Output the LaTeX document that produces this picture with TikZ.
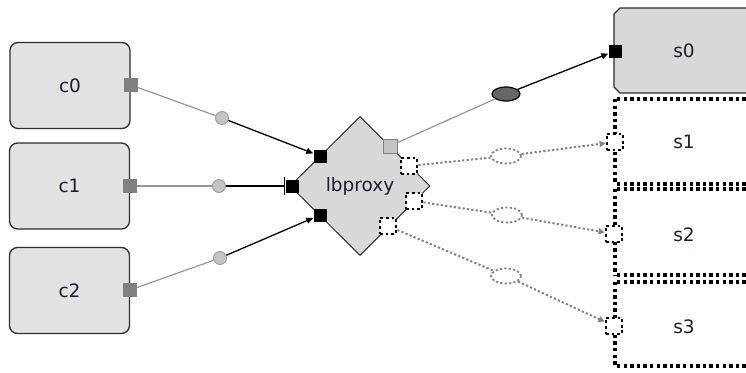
\documentclass[tikz,border=0pt]{standalone}
\usepackage{fontspec}
\setmainfont{DejaVu Sans}
\usetikzlibrary{arrows.meta,shapes.geometric}

\definecolor{txt}{RGB}{28,28,50}
\definecolor{boxline}{RGB}{45,45,45}
\definecolor{cfill}{RGB}{226,226,226}
\definecolor{sfill}{RGB}{216,216,216}
\definecolor{portgray}{RGB}{128,128,128}
\definecolor{portlight}{RGB}{196,196,196}
\definecolor{wire}{RGB}{150,150,150}
\definecolor{dotwire}{RGB}{130,130,130}

\begin{document}
\begin{tikzpicture}[x=1pt,y=-1pt,
  lbl/.style={font=\fontsize{18.5}{22}\selectfont, text=txt},
  cbox/.style={draw=boxline, line width=1.3pt, fill=cfill, rounded corners=8pt,
               minimum width=120pt, minimum height=86pt, inner sep=0pt, lbl},
  sdot/.style={draw=black, line width=3.3pt, dash pattern=on 3.3pt off 3.3pt},
  blackport/.style={rectangle, fill=black, minimum size=13pt, inner sep=0pt},
  grayport/.style={rectangle, fill=portgray, minimum size=14pt, inner sep=0pt},
  dotport/.style={rectangle, draw=black, fill=white, line width=2.8pt,
                  dash pattern=on 2.8pt off 2.8pt, minimum size=16pt, inner sep=0pt},
  mid/.style={circle, fill=portlight, draw=wire, line width=0.8pt, minimum size=13pt, inner sep=0pt},
  dotmid/.style={ellipse, draw=dotwire, fill=white, line width=1.8pt,
                 dash pattern=on 2.2pt off 2.2pt, minimum width=30pt, minimum height=15pt, inner sep=0pt},
  graywire/.style={draw=wire, line width=1.2pt},
  blackwire/.style={draw=black, line width=1.3pt, -{Triangle[length=7pt,width=6pt]}},
  dotline/.style={draw=dotwire, line width=2pt, dash pattern=on 2.2pt off 2.2pt,
                  -{Triangle[length=6pt,width=6pt]}}
]
\useasboundingbox (0,0) rectangle (746,372);
\clip (0,0) rectangle (746,372);

% client boxes
\node[cbox] (c0) at (70,85.5) {c0};
\node[cbox] (c1) at (69.5,186) {c1};
\node[cbox] (c2) at (69.5,290.5) {c2};

% client ports
\node[grayport] (c0p) at (131,85) {};
\node[grayport] (c1p) at (130,186) {};
\node[grayport] (c2p) at (130,290) {};

% balancer
\node[diamond, draw=boxline, line width=1pt, fill=sfill, minimum width=140pt,
      minimum height=139pt, inner sep=0pt, lbl] (lb) at (360,186) {lbproxy};

% balancer ports
\node[blackport] (d0) at (320,156) {};
\node[blackport] (d1) at (292,186) {};
\node[blackport] (d2) at (320,215) {};
\node[rectangle, fill=portlight, draw=portgray, line width=0.8pt, minimum size=14pt,
      inner sep=0pt] (gp) at (390,146) {};
\node[dotport] (q1) at (409,166) {};
\node[dotport] (q2) at (414,201) {};
\node[dotport] (q3) at (388,226) {};

% server boxes
\filldraw[draw=boxline, line width=1.3pt, fill=sfill]
  (620,8) -- (760,8) -- (760,93) -- (620,93) -- (614,87) -- (614,14) -- cycle;
\draw[sdot] (615,99) -- (615,184) (617,99) -- (760,99) (617,184) -- (760,184);
\draw[sdot] (615,189) -- (615,275) (617,189) -- (760,189) (617,275) -- (760,275);
\draw[sdot] (615,282) -- (615,366) (617,282) -- (760,282) (617,366) -- (760,366);

\node[lbl] (s0) at (684,51) {s0};
\node[lbl] (s1) at (684,142) {s1};
\node[lbl] (s2) at (684,235) {s2};
\node[lbl] (s3) at (684,327) {s3};

% server ports
\node[blackport] (s0p) at (615,51) {};
\node[dotport] (s1p) at (615,142) {};
\node[dotport] (s2p) at (614,234) {};
\node[dotport] (s3p) at (614,326) {};

% midpoints
\node[mid] (m0) at (222,118) {};
\node[mid] (m1) at (219,186) {};
\node[mid] (m2) at (220,258) {};
\node[ellipse, fill=portgray!80!black, draw=black, line width=1.2pt,
      minimum width=28pt, minimum height=14pt, inner sep=0pt] (e0) at (506,94) {};
\node[dotmid] (f1) at (506,156) {};
\node[dotmid] (f2) at (507,215) {};
\node[dotmid] (f3) at (506,276) {};

% client connections
\draw[graywire] (c0p) -- (m0);
\draw[blackwire] (m0) -- (d0);
\draw[graywire] (c1p) -- (m1);
\draw[draw=black, line width=1.3pt, -{Bar[width=18pt,line width=1.5pt]}] (m1) -- (d1);
\draw[graywire] (c2p) -- (m2);
\draw[blackwire] (m2) -- (d2);

% server connections
\draw[graywire] (gp) -- (e0);
\draw[blackwire] (e0) -- (s0p);
\draw[dotline, -] (q1) -- (f1);
\draw[dotline] (f1) -- (s1p);
\draw[dotline, -] (q2) -- (f2);
\draw[dotline] (f2) -- (s2p);
\draw[dotline, -] (q3) -- (f3);
\draw[dotline] (f3) -- (s3p);
\end{tikzpicture}
\end{document}
